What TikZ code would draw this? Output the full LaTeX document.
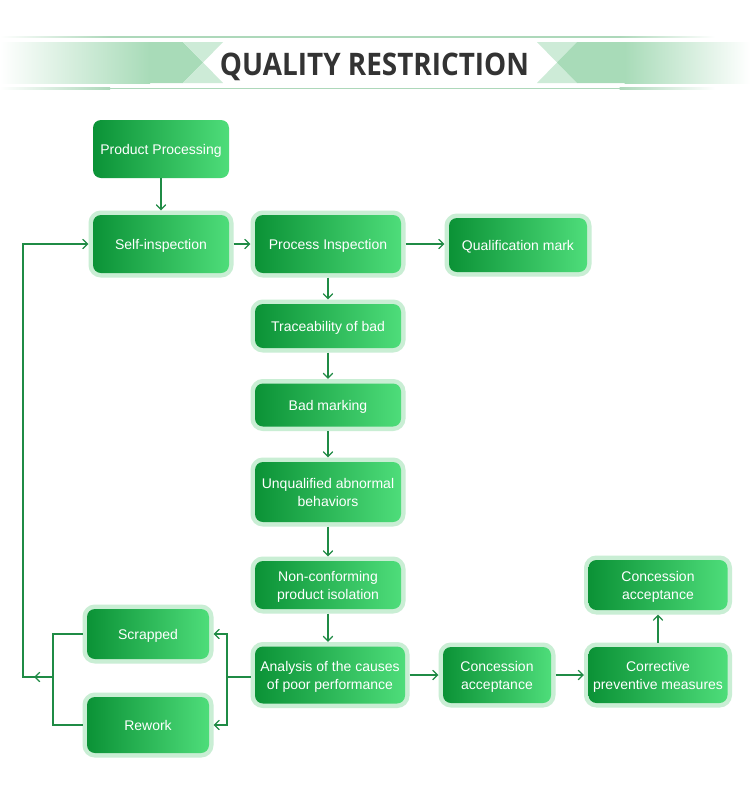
\documentclass[tikz,border=0pt]{standalone}
\usepackage{fontspec}
\setmainfont{Liberation Sans}
\newfontfamily\titlefont{Open Sans}
\usetikzlibrary{arrows.meta}
\definecolor{gdark}{HTML}{0B9236}
\definecolor{glight}{HTML}{4EDD7A}
\definecolor{gframe}{HTML}{C9EED4}
\definecolor{gline}{HTML}{1F8B45}
\definecolor{band}{HTML}{A8DBB8}
\definecolor{bandlight}{HTML}{CDEBD7}
\definecolor{hline}{HTML}{ADD8BA}
\definecolor{titlecol}{HTML}{333333}
\begin{document}
\begin{tikzpicture}[x=1pt,y=-1pt,
  box/.style={rounded corners=8pt, left color=gdark, right color=glight, text=white,
    align=center, font=\fontsize{14}{18}\selectfont, inner sep=0pt, text depth=0pt},
  framed/.style={box, preaction={draw=gframe, line width=9pt}, outer sep=4.5pt},
  conn/.style={draw=gline, line width=1.2pt},
  arr/.style={conn, -{Straight Barb[length=5pt,width=9.5pt,line width=1.2pt]}},
]
\useasboundingbox (0,0) rectangle (750,801);
\fill[white] (0,0) rectangle (750,801);

% header lines
\shade[left color=white, right color=hline] (0,36.3) rectangle (110,37.7);
\fill[hline] (109.5,36.3) rectangle (620,37.7);
\shade[left color=hline, right color=white] (619.5,36.3) rectangle (715,37.7);
\shade[left color=white, right color=hline] (0,87.8) rectangle (110,89.2);
\fill[hline] (109.5,87.8) rectangle (620,89.2);
\shade[left color=hline, right color=white] (619.5,87.8) rectangle (715,89.2);

% header bands
\shade[left color=white, right color=band] (0,42) rectangle (150,83);
\fill[band] (149.5,42) -- (183,42) -- (203,62.5) -- (183,83) -- (149.5,83) -- cycle;
\fill[bandlight] (183,42) -- (223,42) -- (203,62.5) -- cycle;
\fill[bandlight] (183,83) -- (223,83) -- (203,62.5) -- cycle;
\fill[bandlight] (537,42) -- (577,42) -- (557,62.5) -- cycle;
\fill[bandlight] (537,83) -- (577,83) -- (557,62.5) -- cycle;
\fill[band] (557,62.5) -- (577,42) -- (625,42) -- (625,83) -- (577,83) -- cycle;
\shade[left color=band, right color=white] (624.5,42) rectangle (750,83);

\node[text=titlecol, anchor=base, inner sep=0pt] (title) at (374.5,75)
  {\resizebox{309pt}{22.5pt}{\titlefont\bfseries QUALITY RESTRICTION}};

% nodes
\node[box, minimum width=136pt, minimum height=58pt] (pp) at (161,149) {Product Processing};
\node[framed, minimum width=136pt, minimum height=58pt] (si) at (161,244) {Self-inspection};
\node[framed, minimum width=146pt, minimum height=58pt] (pi) at (328,244) {Process Inspection};
\node[framed, minimum width=138pt, minimum height=54pt] (qm) at (518,245) {Qualification mark};
\node[framed, minimum width=146pt, minimum height=44pt] (tr) at (328,326) {Traceability of bad};
\node[framed, minimum width=146pt, minimum height=43pt] (bm) at (328,405) {Bad marking};
\node[framed, minimum width=146pt, minimum height=60pt] (uq) at (328,492) {Unqualified abnormal\\behaviors};
\node[framed, minimum width=146pt, minimum height=48pt] (nc) at (328,585) {Non-conforming\\product isolation};
\node[framed, minimum width=150pt, minimum height=57pt] (an) at (330,675) {Analysis of the causes\\of poor performance};
\node[framed, minimum width=122pt, minimum height=50pt] (sc) at (148,634) {Scrapped};
\node[framed, minimum width=122pt, minimum height=56pt] (rw) at (148,725) {Rework};
\node[framed, minimum width=108pt, minimum height=56pt] (ca) at (497,675) {Concession\\acceptance};
\node[framed, minimum width=139pt, minimum height=56pt] (cp) at (658,675) {Corrective\\preventive measures};
\node[framed, minimum width=139pt, minimum height=50pt] (ct) at (658,585) {Concession\\acceptance};

% connectors
\draw[arr] (pp.south) -- (pp.south |- si.north);
\draw[arr] (si.east) -- (si.east -| pi.west);
\draw[arr] (pi.east) -- (pi.east -| qm.west);
\draw[arr] (pi.south) -- (pi.south |- tr.north);
\draw[arr] (tr.south) -- (tr.south |- bm.north);
\draw[arr] (bm.south) -- (bm.south |- uq.north);
\draw[arr] (uq.south) -- (uq.south |- nc.north);
\draw[arr] (nc.south) -- (nc.south |- an.north);
\draw[arr] (an.east) -- (an.east -| ca.west);
\draw[arr] (ca.east) -- (ca.east -| cp.west);
\draw[arr] (cp.north) -- (cp.north |- ct.south);

\coordinate (jr) at (227,677);
\coordinate (jl) at (53,677);
\coordinate (lc) at (23,677);
\coordinate (ltip) at (34,677);
\draw[conn] (an.west |- jr) -- (jr);
\draw[arr] (jr) |- (sc.east);
\draw[arr] (jr) |- (rw.east);
\draw[conn] (sc.west) -| (jl);
\draw[conn] (rw.west) -| (jl);
\draw[arr] (jl) -- (lc) |- (si.west);
\draw[arr] (jl) -- (ltip);
\end{tikzpicture}
\end{document}
